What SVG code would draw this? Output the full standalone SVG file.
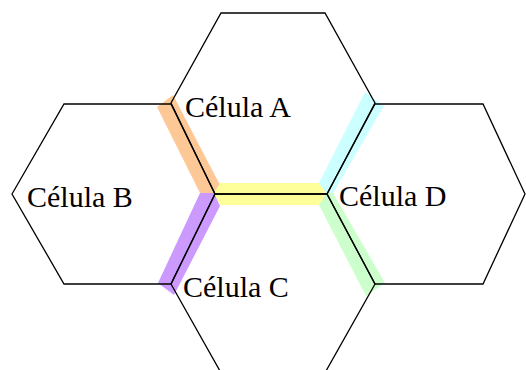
<svg xmlns="http://www.w3.org/2000/svg" width="526" height="370" viewBox="0 0 526 370">
<style>
.hex{fill:none;stroke:#000;stroke-width:1.3;stroke-linejoin:miter}
.lbl{font-family:"Liberation Serif","Times New Roman",serif;font-size:30px;fill:#000}
</style>
<rect width="526" height="370" fill="#fff"/>
<g id="bands">
<polygon points="157,107 173,95 220,185 214,193 200,193" fill="#FDC896"/>
<polygon points="214,193 220,183 320,183 326,193 320,205 220,205" fill="#FFFF99"/>
<polygon points="200,193 214,193 220,206 174,295 158,283" fill="#CC99FF"/>
<polygon points="365,92 384,106 333,193 326,193 319,183" fill="#CCFFFF"/>
<polygon points="326,193 333,193 385,283 366,296 319,205" fill="#CCFFCC"/>
</g>
<g id="cellA">
<polygon class="hex" points="221,13 325,13 375,103 327,194 215,194 171,103"/>
<text class="lbl" x="185" y="117">Célula A</text>
</g>
<g id="cellB">
<polygon class="hex" points="12,194 64,104 171,104 215,194 171,284 64,284"/>
<text class="lbl" x="27" y="207">Célula B</text>
</g>
<g id="cellC">
<polyline class="hex" points="220,371 171,284 215,194 327,194 375,284 326,371"/>
<text class="lbl" x="183" y="297">Célula C</text>
</g>
<g id="cellD">
<polygon class="hex" points="327,194 375,104 483,104 525,194 483,284 375,284"/>
<text class="lbl" x="339" y="206">Célula D</text>
</g>
</svg>
